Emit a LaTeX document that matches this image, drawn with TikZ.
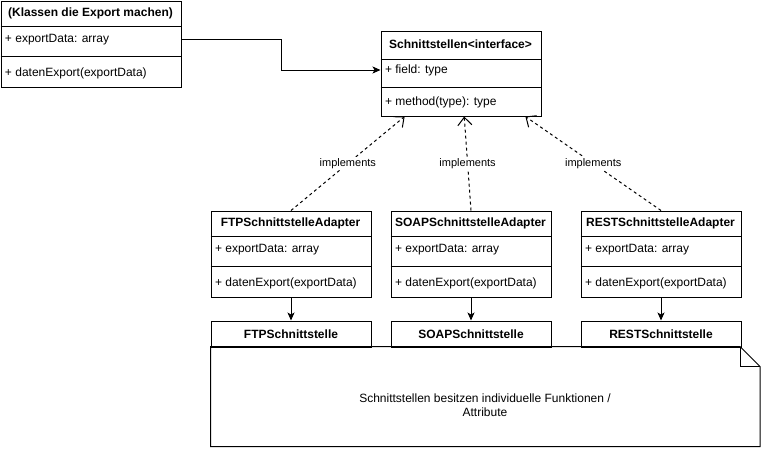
\documentclass[tikz,border=0pt]{standalone}
\usepackage{fontspec}
\setmainfont{Liberation Sans}
\usetikzlibrary{arrows.meta,calc}
\begin{document}
\begin{tikzpicture}[x=1pt,y=-1pt,line width=1pt,
  classbox/.style={draw,line width=1pt,anchor=north west,minimum width=160,minimum height=86,inner sep=0pt},
  plainbox/.style={draw,line width=1pt,anchor=north west,minimum width=160,minimum height=26,inner sep=0pt,font=\fontsize{12}{14}\selectfont\bfseries},
  hdr/.style={font=\fontsize{12}{14}\selectfont\bfseries,inner sep=0pt},
  row/.style={font=\fontsize{12}{14}\selectfont,anchor=west,inner sep=0pt},
  lbl/.style={font=\fontsize{11}{13}\selectfont,fill=white,inner sep=1pt},
  impl/.style={draw,dash pattern=on 3pt off 3pt,-{Straight Barb[length=8pt,width=14pt]}},
  assoc/.style={draw,-{Stealth[length=8pt,width=7pt,inset=2pt]}},
]
\useasboundingbox (0,0) rectangle (761,448);

% source class
\node[classbox,minimum width=180] (src) at (0.5,0.5) {};
\node[hdr] (srch) at (90.5,13.5) {(Klassen die Export machen)};
\draw (0.5,26.5) -- (180.5,26.5);
\node[row] (srcr1) at (4.5,39.5) {+ exportData: array};
\draw (0.5,56.5) -- (180.5,56.5);
\node[row] (srcr2) at (4.5,73) {+ datenExport(exportData)};

% interface
\node[classbox,minimum height=85] (iface) at (380.5,30.5) {};
\node[hdr] (ifh) at (460.5,44.5) {Schnittstellen<interface>};
\draw (380.5,59.5) -- (540.5,59.5);
\node[row] (ifr1) at (384.5,70) {+ field: type};
\draw (380.5,87.5) -- (540.5,87.5);
\node[row] (ifr2) at (384.5,102) {+ method(type): type};

% adapters
\foreach \nm/\x/\t in {ftpA/210.5/FTPSchnittstelleAdapter,soapA/390.5/SOAPSchnittstelleAdapter,restA/580.5/RESTSchnittstelleAdapter}{
  \node[classbox] (\nm) at (\x,210.5) {};
  \node[hdr] (\nm h) at (\x+80,223.5) {\t};
  \draw (\x,236.5) -- (\x+160,236.5);
  \node[row] (\nm r1) at (\x+4,250) {+ exportData: array};
  \draw (\x,266.5) -- (\x+160,266.5);
  \node[row] (\nm r2) at (\x+4,283.5) {+ datenExport(exportData)};
}

% concrete interfaces
\node[plainbox] (ftp) at (210.5,320.5) {FTPSchnittstelle};
\node[plainbox] (soap) at (390.5,320.5) {SOAPSchnittstelle};
\node[plainbox] (rest) at (580.5,320.5) {RESTSchnittstelle};

% note
\draw (210.5,346.5) -- (740,346.5) -- (760,366.5) -- (760,446.5) -- (210.5,446.5) -- cycle;
\draw (740,346.5) -- (740,366.5) -- (760,366.5);
\node[font=\fontsize{12}{14}\selectfont,align=center,inner sep=0pt] (note) at (485,405)
  {Schnittstellen besitzen individuelle Funktionen /\\Attribute};

% connectors
\draw[assoc] (srcr1.east -| src.east) -- ++(100,0) |- (ifr1.west -| iface.west);
\draw[assoc] (ftpA.south) -- (ftp.north);
\draw[assoc] (soapA.south) -- (soap.north);
\draw[assoc] (restA.south) -- (rest.north);

\draw[impl] (ftpA.north) -- ($(iface.south west)!0.15!(iface.south east)$)
  node[lbl,pos=0.5] {implements};
\draw[impl] (soapA.north) -- ($(iface.south west)!0.52!(iface.south east)$)
  node[lbl,pos=0.5] {implements};
\draw[impl] (restA.north) -- ($(iface.south west)!0.9!(iface.south east)$)
  node[lbl,pos=0.5] {implements};
\end{tikzpicture}
\end{document}
